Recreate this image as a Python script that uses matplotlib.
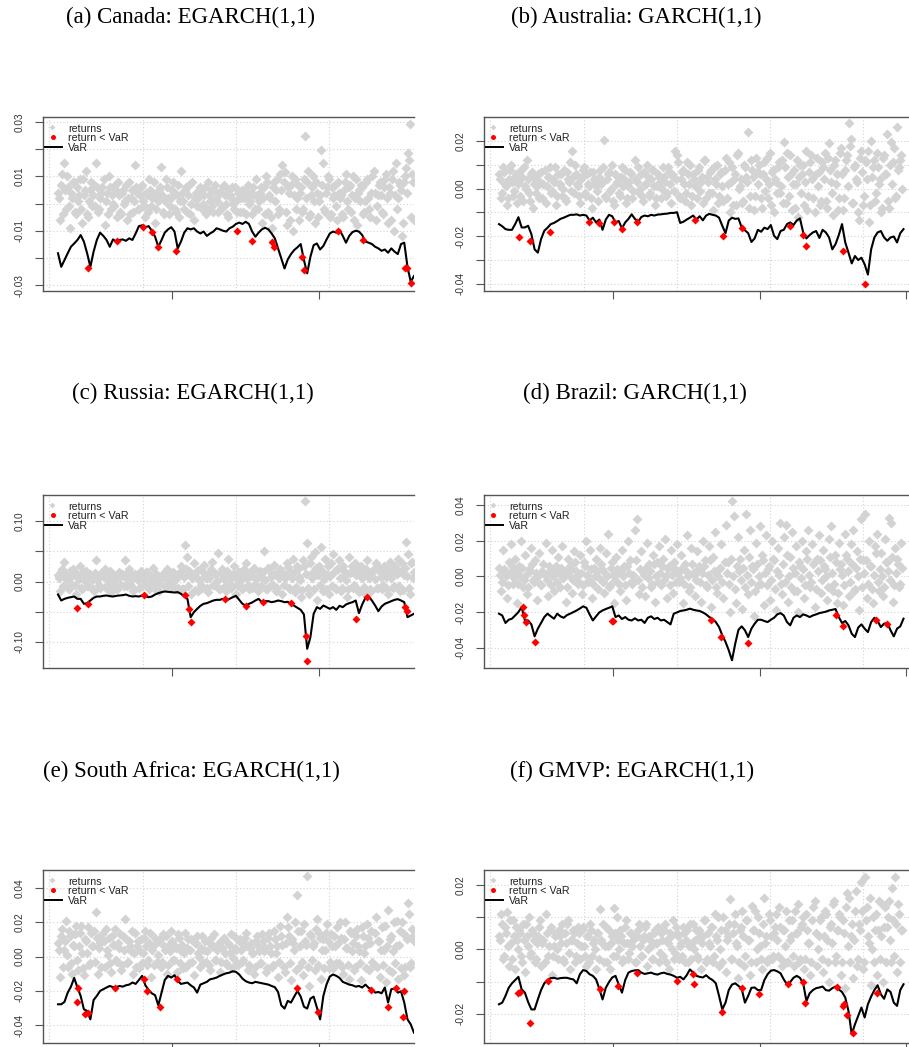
import numpy as np
import matplotlib
matplotlib.use("Agg")
import matplotlib.pyplot as plt

# ---------------- data (basis points, 1 bp = 0.0001) ----------------
VAR_STEP = 8      # days between VaR samples
RET_STEP = 5      # days between return samples (second list sits half a step later)

TITLES = ["(a) Canada: EGARCH(1,1)", "(b) Australia: GARCH(1,1)",
          "(c) Russia: EGARCH(1,1)", "(d) Brazil: GARCH(1,1)",
          "(e) South Africa: EGARCH(1,1)", "(f) GMVP: EGARCH(1,1)"]

CA_var_bp = [-183, -233, -208, -183, -159, -147, -134, -116, -140, -183,
             -233, -177, -134, -107, -119, -134, -159, -132, -140, -134,
             -132, -137, -128, -134, -110, -83, -80, -87, -83, -100,
             -122, -159, -134, -107, -95, -87, -103, -165, -140, -107,
             -91, -95, -91, -103, -110, -103, -119, -110, -103, -91,
             -95, -100, -103, -91, -85, -75, -70, -75, -67, -75,
             -103, -122, -107, -95, -89, -95, -110, -128, -165, -202,
             -239, -206, -186, -171, -161, -149, -208, -257, -196, -153,
             -147, -169, -156, -132, -110, -103, -107, -97, -119, -144,
             -119, -105, -100, -103, -116, -140, -144, -149, -159, -165,
             -174, -169, -181, -165, -177, -186, -149, -144, -233, -288,
             -267]
CA_ret_bp = [40, -60, 110, 150, -20, 60, -90, 20, 80, -40,
             10, 90, -70, 30, 120, -50, 50, -10, 70, 150,
             -30, 20, 60, -80, 40, 100, -20, 0, 70, -50,
             30, -40, 50, 10, -60, 80, 20, -30, 142, 40,
             -20, 60, 10, -50, 30, 90, -10, 40, -70, 20,
             50, 136, -30, 10, 60, -40, 20, 80, -20, 30,
             -50, 120, 10, 50, -30, 70, 0, -60, 40, 20,
             60, -20, 30, -40, 80, 10, -10, 50, 20, -30,
             40, -10, 70, 0, -50, 30, 60, -20, 10, 40,
             -30, 50, 20, -40, 70, 10, -40, 30, 90, -20,
             40, -70, 60, 100, -30, 20, -90, 80, 50, -40,
             110, 142, 118, -80, 40, 70, -100, 90, 20, -60,
             60, -20, 250, 80, -50, 30, 100, -70, 40, 10,
             198, 151, -30, 60, 90, -40, 20, 70, -60, 40,
             30, -50, 80, 10, 60, -30, 100, 20, -80, 50,
             70, -40, 10, 90, -20, 40, 120, -60, 30, 80,
             -30, 60, 110, -70, 40, 90, -100, 150, 20, 70,
             -120, 80, 130, 188, 294, 110, -60]
CA_ret_mid_bp = [20, 70, -40, 50, 100, -10, 40, 80, -30, 60,
                 30, -20, 90, 50, -40, 10, 80, 30, -10, 60,
                 -20, 40, 90, 10, -40, 60, 30, -10, 50, 80,
                 -30, 40, 0, 70, 20, -40, 50, 10, 60, -20,
                 30, 70, -10, 40, -30, 50, 20, 80, -20, 10,
                 60, 30, -40, 90, 20, -10, 50, 40, -30, 70,
                 10, 40, -20, 60, 30, -40, 80, 20, -10, 50,
                 40, 0, 60, -20, 30, 50, -30, 70, 10, 40,
                 -20, 60, 30, -40, 50, 20, 0, 60, -30, 40,
                 20, -30, 50, 30, 0, 40, 60, -20, 30, 10,
                 60, 20, -40, 80, 30, -50, 60, 10, 90, -20,
                 50, 80, -30, 60, -60, 100, 30, -20, 70, 40,
                 -30, 90, 20, 120, -40, 60, 10, 80, -50, 30,
                 70, -20, 40, 100, -50, 60, 30, -10, 80, 20,
                 -40, 50, 110, -20, 70, 30, -60, 90, 40, 10,
                 60, -30, 80, 20, -50, 100, 40, -10, 70, 30,
                 -40, 90, 20, 60, -60, 120, 30, -20, 80, 50,
                 -70, 100, 40, 160, -50, 80]
CA_breach_day = [75, 147, 209, 232, 248, 292, 443, 479, 528, 534, 602, 608, 693, 753, 858, 864, 872]
CA_breach_bp = [-239, -137, -85, -103, -159, -175, -100, -137, -140, -159, -196, -245, -100, -134, -239, -239, -294]

AU_var_bp = [-149, -158, -170, -173, -173, -149, -120, -163, -163, -156,
             -191, -255, -269, -212, -177, -164, -149, -144, -136, -127,
             -122, -116, -110, -110, -108, -113, -110, -113, -134, -122,
             -142, -130, -173, -130, -110, -116, -142, -136, -167, -142,
             -127, -108, -127, -139, -119, -113, -116, -110, -113, -109,
             -108, -106, -105, -102, -102, -99, -144, -139, -130, -122,
             -113, -130, -116, -133, -113, -106, -110, -113, -122, -156,
             -187, -134, -122, -127, -125, -163, -175, -187, -224, -209,
             -173, -181, -164, -170, -153, -198, -212, -178, -173, -149,
             -142, -153, -134, -125, -184, -209, -195, -184, -178, -207,
             -173, -184, -205, -255, -233, -195, -149, -226, -269, -314,
             -283, -300, -290, -318, -361, -255, -205, -184, -178, -205,
             -219, -205, -201, -226, -187, -170]
AU_ret_bp = [60, -40, 90, 20, -70, 40, 100, -30, 50, -60,
             30, 80, -50, 10, 120, -20, 60, -80, 40, 10,
             -40, 70, 20, -60, 50, 90, -10, 30, -70, 60,
             20, -30, 80, -50, 40, 110, 160, -20, 60, 10,
             -60, 50, 90, -30, 20, 70, -80, 40, 10, -50,
             80, 30, 205, -40, 60, -10, 100, -70, 20, 50,
             -30, 90, 40, -60, 10, 70, -40, 120, 30, -20,
             60, -50, 20, 100, -30, 40, 80, -70, 10, 50,
             -40, 90, 30, -20, 70, -60, 50, 160, 140, -30,
             40, 80, -50, 110, 20, -70, 60, 10, -40, 90,
             30, -60, 120, 50, -20, 80, -90, 40, 100, -30,
             70, -50, 130, 20, -100, 90, 40, -70, 150, 10,
             -60, 100, 50, 240, -30, 80, -90, 130, 20, 60,
             -80, 110, 40, -40, 150, 70, -100, 30, 90, -20,
             120, 198, -60, 50, 140, -90, 80, 20, -120, 100,
             60, -70, 160, -30, 110, 40, -100, 130, 70, -50,
             90, 150, -80, 190, 30, -110, 120, 60, -40, 170,
             -90, 80, 140, 276, 210, -60, 100, 30, -130, 160,
             -70, 120, 40, -140, 200, 90, -50, 150, 20, -100,
             130, 60, 230, -80, 198, 110, -40, 258, 90, 140]
AU_ret_mid_bp = [40, -20, 70, 10, -40, 80, 30, -10, 60, 20,
                 -30, 50, 90, 0, 40, -50, 70, 20, -20, 60,
                 30, -40, 80, 10, 50, -20, 40, 90, -30, 20,
                 60, 0, -40, 70, 30, -10, 50, 100, 20, -30,
                 40, 80, -20, 60, 10, -40, 70, 30, -10, 50,
                 20, 90, -30, 40, 70, 0, -50, 60, 30, -20,
                 50, 10, 80, -40, 30, 60, -10, 40, 90, 0,
                 -30, 70, 20, 50, -20, 80, 10, -40, 60, 30,
                 0, 50, -30, 90, 20, 60, -10, 40, 110, -40,
                 70, 20, -20, 60, 100, -30, 40, 10, 80, -10,
                 50, 120, -40, 30, 70, -20, 90, 20, -60, 60,
                 10, 80, -40, 110, 30, -70, 60, 140, 0, 40,
                 -50, 90, 30, -80, 120, 50, -30, 70, 100, -40,
                 60, -10, 130, 20, -70, 80, 40, -20, 110, 10,
                 -60, 90, 150, -30, 60, 20, -80, 120, 50, -20,
                 100, 30, -90, 70, 140, -40, 60, 10, -70, 110,
                 40, -50, 130, 80, -20, 100, 20, -90, 150, 60,
                 -40, 120, 10, 180, -60, 90, 40, -100, 130, 70,
                 -30, 110, 160, -70, 50, 120, -20, 90, 40, -80,
                 140, 60, -50, 100, 20, 170, -30, 80, 120, 0]
AU_breach_day = [50, 77, 126, 223, 246, 284, 303, 342, 485, 553, 600, 719, 751, 758, 851, 905]
AU_breach_bp = [-202, -219, -181, -139, -144, -139, -170, -141, -130, -201, -167, -156, -195, -241, -262, -399]

RU_var_bp = [-215, -314, -287, -270, -259, -248, -287, -287, -369, -358,
             -314, -270, -248, -248, -237, -231, -242, -248, -237, -231,
             -226, -215, -237, -248, -242, -248, -231, -248, -259, -248,
             -215, -193, -176, -165, -171, -176, -182, -176, -204, -248,
             -287, -590, -507, -452, -402, -369, -358, -336, -314, -303,
             -303, -287, -314, -287, -259, -237, -303, -369, -397, -369,
             -347, -314, -287, -342, -325, -325, -342, -331, -314, -325,
             -342, -336, -369, -402, -435, -468, -545, -1113, -920, -534,
             -424, -452, -397, -424, -452, -424, -468, -402, -424, -380,
             -358, -342, -314, -523, -380, -270, -248, -314, -397, -490,
             -413, -369, -347, -325, -303, -292, -314, -342, -590, -562,
             -534]
RU_ret_bp = [100, -150, 200, 320, 50, -100, 180, -50, 150, -200,
             80, 250, -120, 30, 180, -80, 120, 20, -150, 360,
             60, -100, 150, 200, -50, 100, -180, 80, 30, -120,
             150, -60, 100, 350, -80, 200, 40, -150, 120, 60,
             -100, 180, 40, -60, 150, -120, 80, 220, -40, 100,
             -150, 60, 120, -80, 200, 30, -100, 150, 70, -130,
             100, 250, -120, 610, 400, 180, -200, 300, 80, -150,
             200, -100, 280, 50, -180, 150, 320, -60, 120, 470,
             -120, 200, 60, -150, 370, 100, -80, 250, -200, 150,
             80, -120, 200, 300, -60, 150, -100, 230, 40, -150,
             180, 60, 510, -120, 220, -80, 130, 280, -150, 100,
             200, -200, 50, 300, -100, 150, 380, -180, 250, 80,
             -250, 350, 1330, 630, -200, 400, 150, 480, -300, 250,
             570, -150, 380, 100, -200, 300, 450, -100, 200, 350,
             -150, 250, 100, -250, 400, 150, -100, 300, 200, -180,
             250, 100, -200, 350, 50, -150, 200, 300, -100, 150,
             -120, 250, 80, -200, 320, 150, -80, 200, 380, -150,
             300, 100, 650, 460, -200, 320, 150]
RU_ret_mid_bp = [50, 150, -80, 100, 30, -120, 80, 200, -60, 120,
                 40, -100, 160, 20, -80, 100, 60, -130, 140, 30,
                 -60, 120, 80, -100, 40, 180, -50, 90, 20, -110,
                 70, 130, -70, 50, 150, -40, 100, -120, 60, 20,
                 120, -80, 40, 160, -60, 90, 10, -100, 130, 50,
                 -40, 110, 70, -90, 140, 20, -60, 100, 40, -100,
                 160, -120, 80, 200, -80, 130, 50, -140, 180, 30,
                 -60, 150, 90, -100, 60, 200, -50, 120, 10, -120,
                 140, 60, -80, 180, 30, -110, 120, 70, -60, 160,
                 20, -100, 130, 50, -120, 90, 170, -40, 60, 110,
                 -80, 150, 30, -130, 200, 80, -50, 120, -100, 60,
                 180, -60, 100, 240, -120, 60, 150, -90, 200, 30,
                 -140, 250, 120, -100, 300, 60, -130, 220, 100, -60,
                 180, 40, -120, 260, 90, -80, 150, -130, 210, 60,
                 -100, 180, 30, -120, 140, 250, -60, 100, -140, 170,
                 60, -90, 200, 110, -130, 160, 40, -100, 230, 80,
                 -60, 150, -120, 190, 50, -100, 260, 120, -80, 170,
                 -140, 220, 90, -110, 300, 60]
RU_breach_day = [46, 73, 213, 314, 325, 330, 414, 465, 506, 575, 612, 616, 737, 765, 858, 862]
RU_breach_bp = [-435, -380, -231, -231, -452, -672, -287, -397, -342, -358, -893, -1322, -617, -248, -424, -490]

BR_var_bp = [-208, -218, -260, -242, -236, -218, -199, -171, -246, -246,
             -268, -335, -292, -260, -227, -208, -223, -236, -208, -223,
             -231, -216, -208, -199, -190, -179, -167, -175, -212, -246,
             -223, -201, -190, -182, -175, -167, -227, -218, -238, -227,
             -242, -246, -234, -246, -242, -260, -231, -223, -238, -231,
             -246, -242, -255, -268, -208, -201, -193, -190, -186, -180,
             -186, -190, -193, -201, -212, -227, -238, -255, -283, -329,
             -366, -413, -469, -376, -298, -279, -301, -339, -292, -264,
             -242, -242, -249, -255, -242, -231, -212, -205, -218, -255,
             -273, -231, -218, -227, -212, -218, -227, -218, -212, -205,
             -201, -197, -190, -186, -182, -227, -260, -249, -273, -320,
             -339, -286, -268, -292, -311, -255, -231, -249, -283, -264,
             -260, -301, -335, -292, -279, -236]
BR_ret_bp = [50, -80, 150, 20, -120, 80, 180, -40, 100, -150,
             60, 200, -60, 120, -100, 40, 160, -20, 90, -130,
             130, -50, 70, 190, -110, 30, 150, -80, 60, 110,
             -60, 170, 20, -140, 100, 60, -90, 140, 30, -40,
             120, -100, 80, 200, -30, 150, -120, 50, 100, -70,
             160, 40, -90, 130, 240, -50, 80, -150, 110, 20,
             -80, 150, 60, -130, 200, 90, -40, 260, 320, -100,
             140, 30, -110, 190, 70, -60, 120, -140, 80, 170,
             -50, 100, 210, -120, 60, 150, -90, 40, 180, -30,
             120, -150, 70, 230, -80, 160, 20, -110, 140, 60,
             -140, 200, 90, -60, 170, -170, 110, 250, -90, 40,
             180, -120, 290, 80, -200, 420, 340, -150, 220, 100,
             -180, 150, 350, -100, 260, 60, -220, 190, -50, 280,
             120, -160, 230, 40, -130, 200, 90, -190, 160, 300,
             -100, 220, 290, -140, 110, 250, -80, 170, -200, 60,
             200, -120, 140, 260, -60, 180, -170, 100, 230, -90,
             150, 40, -130, 210, 280, -80, 120, -150, 190, 70,
             -160, 240, 100, -110, 180, 260, -70, 140, -190, 320,
             90, 350, -120, 200, 60, -150, 170, 240, -80, 130,
             -110, 210, 80, 330, 300, -140, 160, 100, -60, 190]
BR_ret_mid_bp = [10, -30, 40, 0, -50, 20, 60, -10, 30, -40,
                 0, 50, -20, 10, -60, 30, 70, -30, 20, 0,
                 -40, 30, 10, -20, 60, -50, 0, 40, -30, 20,
                 50, -10, 30, -60, 10, 40, -20, 80, 0, -30,
                 20, -50, 60, 10, -20, 40, -40, 0, 30, -10,
                 70, -30, 20, 0, -60, 50, 10, -20, 40, -40,
                 30, 0, -50, 60, 20, -30, 10, 90, -20, 40,
                 -60, 10, 50, -10, 30, -40, 70, 0, -30, 20,
                 60, -20, 0, 40, -50, 10, 80, -30, 20, -10,
                 50, -40, 30, 0, -60, 70, 10, -20, 40, -30,
                 20, 60, -50, 10, 90, -20, 30, -60, 0, 50,
                 -30, 80, 20, -40, 100, 0, -70, 60, 30, -20,
                 50, -60, 10, 110, -30, 40, -80, 70, 0, -40,
                 90, 20, -50, 60, -20, 100, -70, 30, 10, -40,
                 70, -30, 120, 0, -60, 50, 20, -80, 80, -10,
                 40, -50, 100, 10, -30, 70, -70, 30, 90, -20,
                 60, 0, -60, 110, 20, -40, 80, -90, 40, 10,
                 -50, 120, 30, -30, 70, -80, 50, 0, 100, -60,
                 20, 90, -40, 60, -70, 10, 130, -30, 40, 0,
                 -60, 80, 30, -20, 110, -50, 20, 70, -40, 50]
BR_breach_day = [59, 62, 67, 90, 279, 283, 524, 550, 616, 833, 851, 932, 958]
BR_breach_bp = [-171, -218, -255, -366, -249, -249, -242, -339, -370, -218, -277, -242, -268]

ZA_var_bp = [-279, -279, -265, -211, -176, -125, -181, -230, -308, -318,
             -367, -254, -230, -201, -191, -181, -172, -179, -179, -172,
             -176, -168, -164, -152, -160, -137, -113, -168, -195, -215,
             -226, -285, -211, -137, -113, -123, -109, -142, -160, -156,
             -152, -168, -181, -211, -164, -156, -148, -133, -129, -123,
             -113, -105, -98, -94, -86, -90, -105, -129, -144, -152,
             -156, -148, -152, -156, -160, -164, -172, -179, -207, -285,
             -304, -259, -269, -234, -201, -234, -293, -304, -246, -234,
             -298, -367, -230, -162, -117, -105, -113, -125, -148, -156,
             -164, -168, -176, -172, -181, -164, -183, -191, -211, -207,
             -215, -181, -269, -191, -187, -211, -203, -269, -367, -396,
             -445]
ZA_ret_bp = [80, -120, 160, 40, 210, -60, 120, -100, 60, 180,
             -80, 140, 20, -110, 90, 170, -40, 60, 150, 260,
             -100, 80, 130, -60, 40, 110, -90, 70, 160, -30,
             50, -80, 120, 220, -40, 90, 30, -100, 140, 60,
             -70, 100, 20, 150, -50, 80, -120, 60, 110, -30,
             90, -60, 130, 40, -100, 70, 150, -20, 60, -90,
             110, 30, -70, 140, 50, -40, 100, -110, 80, 20,
             -60, 120, 40, -30, 90, -80, 60, 130, -20, 70,
             -90, 50, 110, -40, 80, 20, -70, 120, 40, -50,
             100, -30, 70, 140, -80, 50, 20, -100, 90, 60,
             -40, 130, 30, -90, 110, 60, -60, 150, 20, -120,
             180, 70, -90, 230, 120, -140, 80, 200, 360, -60,
             150, -110, 90, 470, -170, 120, 60, -80, 220, 140,
             -130, 100, 40, 190, -70, 130, -70, 60, 170, -40,
             110, -100, 200, 50, -130, 140, 80, -60, 160, 30,
             -140, 120, 60, 190, -80, 150, -50, 230, 90, -120,
             170, 40, -150, 270, 100, -90, 200, 60, -130, 150,
             200, -110, 120, 310, -60, 160, 90]
ZA_ret_mid_bp = [40, 120, -60, 90, 10, 150, -40, 70, 130, -20,
                 60, 180, -70, 100, 20, -50, 140, 60, -30, 110,
                 50, -60, 90, 160, 10, -40, 120, 70, -20, 80,
                 130, -50, 40, 100, -30, 60, 150, 20, -60, 90,
                 30, -40, 110, 60, -20, 140, 40, -50, 80, 10,
                 100, -30, 60, 120, -50, 30, 90, -20, 50, 130,
                 -40, 70, 20, -60, 100, 40, -30, 80, 120, 0,
                 50, -40, 90, 30, -50, 110, 60, -20, 40, 80,
                 -30, 100, 20, -50, 70, 130, -10, 50, -40, 90,
                 40, -20, 110, 60, -50, 80, 20, -60, 120, 30,
                 -40, 90, 50, -70, 140, 20, -50, 100, 60, -30,
                 120, -60, 80, 170, -40, 100, 40, -80, 150, 60,
                 -30, 190, 70, -60, 130, -20, 80, 160, -50, 110,
                 40, -70, 140, 90, -30, 60, 120, -40, 80, 200,
                 -60, 100, 50, -50, 150, 30, -80, 120, 60, -40,
                 170, 20, -70, 110, 80, -30, 140, -60, 90, 40,
                 -50, 180, 60, -80, 120, 30, -40, 210, 70, -70,
                 140, -60, 100, 250, -40, 120]
ZA_breach_day = [48, 50, 67, 75, 141, 213, 219, 251, 293, 590, 642, 775, 817, 836, 854, 855]
ZA_breach_bp = [-265, -181, -334, -328, -181, -129, -201, -293, -133, -185, -324, -195, -295, -181, -353, -201]

GM_var_bp = [-170, -165, -144, -119, -105, -95, -85, -124, -134, -163,
             -186, -186, -155, -126, -105, -95, -89, -88, -91, -89,
             -88, -88, -91, -93, -105, -77, -64, -67, -77, -82,
             -93, -122, -155, -119, -101, -87, -82, -109, -134, -95,
             -72, -67, -65, -64, -72, -76, -74, -72, -76, -78,
             -74, -72, -76, -78, -82, -88, -85, -93, -80, -62,
             -72, -82, -85, -87, -80, -89, -95, -105, -144, -186,
             -165, -126, -109, -105, -113, -122, -165, -144, -119, -118,
             -126, -126, -95, -77, -66, -64, -68, -74, -93, -108,
             -101, -88, -82, -88, -105, -160, -136, -126, -120, -118,
             -115, -126, -128, -120, -115, -124, -132, -149, -191, -263,
             -232, -206, -180, -211, -170, -146, -126, -111, -139, -153,
             -124, -132, -165, -175, -126, -108]
GM_ret_bp = [40, 110, -30, 70, 115, -50, 20, 90, -60, 30,
             60, -20, 80, -70, 40, 100, -10, 50, -40, 20,
             70, -50, 30, 110, -20, 60, -80, 10, 50, -30,
             40, 80, -40, 20, 90, -60, 30, 50, -20, 70,
             -30, 60, 10, -50, 40, 80, -20, 30, -60, 50,
             126, 20, -40, 70, 10, -60, 40, 129, -20, 30,
             60, -40, 20, 90, -30, 50, 10, -40, 40, 80,
             -20, 30, 70, -50, 40, 10, -30, 60, 20, -40,
             50, -20, 80, 30, -60, 40, 90, -10, 50, -30,
             20, 70, -40, 60, 10, -30, 80, 30, -20, 60,
             -60, 40, 90, -30, 20, 70, -40, 110, 30, -50,
             60, 100, -70, 40, 157, -30, 80, 20, -90, 60,
             120, -50, 90, 30, -80, 134, 60, -40, 100, 10,
             -60, 160, 40, -30, 90, -30, 50, 110, -20, 70,
             -50, 60, 120, -40, 30, 90, -50, 50, 140, -30,
             80, -60, 110, 20, -80, 90, 150, -50, 40, 100,
             -70, 120, 30, -100, 80, 140, -40, 60, 110, -80,
             90, -120, 175, 160, 40, -90, 120, -50, 80, 210,
             -60, 225, 130, 20, -110, 100, 60, -80, 150, 40,
             -100, 130, 70, 150, -40, 90, 225, -70, 110, 60]
GM_ret_mid_bp = [30, 80, -20, 50, 10, 90, -30, 40, 70, 0,
                 50, -40, 30, 80, 10, -20, 60, 30, -30, 40,
                 90, 20, -40, 50, 10, 70, -20, 40, 0, 60,
                 20, -30, 50, 80, -10, 30, 60, -40, 20, 50,
                 10, 70, -20, 40, -40, 60, 20, 0, 50, -30,
                 30, 80, 10, -40, 60, 20, -20, 50, 100, 0,
                 40, -30, 70, 20, -10, 50, 30, -40, 60, 10,
                 -20, 40, 80, 0, 30, -30, 50, 20, 70, -10,
                 30, 60, -40, 20, 50, 0, -30, 70, 40, 10,
                 -20, 50, 30, -40, 80, 20, 0, 60, -30, 40,
                 20, 90, -40, 50, 10, 70, -20, 40, 100, 0,
                 -40, 60, 30, 80, -30, 50, 110, 10, -40, 70,
                 40, -20, 90, 30, -40, 60, 120, 0, 50, -30,
                 80, 20, -40, 110, 40, -20, 70, 30, 130, -30,
                 60, 10, -40, 90, 40, -20, 120, 50, -40, 70,
                 100, -30, 60, 20, -40, 130, 50, 0, 90, -30,
                 40, 110, -40, 70, 20, 150, -20, 60, 100, -40,
                 50, 130, 10, -40, 80, 30, 180, -30, 60, 120,
                 -40, 90, 40, 160, 0, -40, 110, 60, -30, 140,
                 70, -40, 100, 30, 190, -20, 80, 140, -40, 60]
GM_breach_day = [48, 52, 77, 122, 250, 295, 342, 441, 480, 482, 551, 600, 644, 715, 751, 756, 836, 850, 854, 860, 876, 934]
GM_breach_bp = [-134, -132, -227, -98, -124, -113, -74, -98, -77, -108, -193, -119, -139, -108, -101, -165, -115, -175, -168, -204, -258, -134]

X_TICK_DAYS = [282, 645, 1006]
X_GRID_DAYS = [-22, 210, 440, 670, 900]

CA_yticks = [-0.03, -0.02, -0.01, 0.0, 0.01, 0.02, 0.03]
CA_ylabels = ["-0.03", "", "-0.01", "", "0.01", "", "0.03"]
AU_yticks = [-0.04, -0.03, -0.02, -0.01, 0.0, 0.01, 0.02]
AU_ylabels = ["-0.04", "", "-0.02", "", "0.00", "", "0.02"]
RU_yticks = [-0.10, -0.05, 0.0, 0.05, 0.10]
RU_ylabels = ["-0.10", "", "0.00", "", "0.10"]
BR_yticks = [-0.04, -0.02, 0.0, 0.02, 0.04]
BR_ylabels = ["-0.04", "-0.02", "0.00", "0.02", "0.04"]
ZA_yticks = [-0.04, -0.02, 0.0, 0.02, 0.04]
ZA_ylabels = ["-0.04", "-0.02", "0.00", "0.02", "0.04"]
GM_yticks = [-0.02, -0.01, 0.0, 0.01, 0.02]
GM_ylabels = ["-0.02", "", "0.00", "", "0.02"]

# ---------------- layout ----------------
W, H = 909, 1047
PX_PER_DAY = 0.4045
DATA_OFFSET_PX = 15
GRAY = "#D3D3D3"
SPINE = "#555555"

fig = plt.figure(figsize=(W / 100, H / 100), dpi=100)
fig.patch.set_facecolor("white")

COLS = [(43, 371), (484, 425)]
ROWS = [(117, 291), (495, 668), (870, 1043)]
TITLE_POS = [(190, 17), (636, 17), (193, 393), (635, 393), (191, 771), (632, 771)]


def panel(idx, var_bp, ret_bp, ret_mid_bp, b_day, b_bp, yticks, ylabels, ylim):
    row, col = divmod(idx, 2)
    x0, wpx = COLS[col]
    ytop, ybot = ROWS[row]
    hpx = ybot - ytop
    ax = fig.add_axes([x0 / W, 1 - ybot / H, wpx / W, hpx / H])

    for yt in yticks:
        ax.axhline(yt, color=GRAY, lw=0.8, ls=(0, (1, 2)), zorder=0)
    for g in X_GRID_DAYS:
        ax.axvline(g, color=GRAY, lw=0.8, ls=(0, (1, 2)), zorder=0)

    var = np.array(var_bp) * 1e-4
    ret = np.concatenate([np.array(ret_bp), np.array(ret_mid_bp)]) * 1e-4
    ret_days = np.concatenate([np.arange(len(ret_bp)) * RET_STEP,
                               np.arange(len(ret_mid_bp)) * RET_STEP + RET_STEP / 2])
    ax.plot(ret_days, ret, ls="none", marker="D", ms=5.0,
            color=GRAY, mec="none", zorder=2)
    ax.plot(np.arange(len(var)) * VAR_STEP, var, color="black", lw=1.5, zorder=3)
    ax.plot(b_day, np.array(b_bp) * 1e-4, ls="none", marker="D", ms=4.0,
            color="red", mec="none", zorder=4)

    for s in ["top", "left", "bottom"]:
        ax.spines[s].set_color(SPINE)
        ax.spines[s].set_linewidth(1.0)
    ax.spines["right"].set_visible(False)

    ax.set_xticks(X_TICK_DAYS)
    ax.set_xticklabels([])
    ax.tick_params(axis="x", length=6, width=0.8, color=SPINE)
    ax.set_yticks(yticks)
    ax.set_yticklabels(ylabels, rotation=90, va="center",
                       fontfamily="Liberation Sans", fontsize=7.2, color="#333333")
    ax.tick_params(axis="y", length=6, width=0.8, color=SPINE, pad=7.5)

    # limits last, so that set_xticks cannot widen them
    xmin = -DATA_OFFSET_PX / PX_PER_DAY
    ax.set_xlim(xmin, xmin + wpx / PX_PER_DAY)
    ax.set_ylim(*ylim)

    # legend (top-left, no frame)
    def fx(px):
        return px / wpx

    def fy(px):
        return 1 - px / hpx

    ax.plot([fx(9)], [fy(10)], transform=ax.transAxes, marker="D", ms=3,
            color=GRAY, mec="none", clip_on=False, zorder=6)
    ax.plot([fx(9.5)], [fy(20)], transform=ax.transAxes, marker="o", ms=3.6,
            color="red", mec="none", clip_on=False, zorder=6)
    ax.plot([fx(2), fx(19)], [fy(30), fy(30)], transform=ax.transAxes,
            color="black", lw=1.4, clip_on=False, zorder=6)
    for k, lab in enumerate(["returns", "return < VaR", "VaR"]):
        ax.text(fx(25), fy(12 + 9.3 * k), lab, transform=ax.transAxes,
                fontfamily="Liberation Sans", fontsize=7.7, color="#222222",
                ha="left", va="center", zorder=7)

    cx, cy = TITLE_POS[idx]
    fig.text(cx / W, 1 - cy / H, TITLES[idx], fontfamily="Liberation Serif",
             fontsize=16.5, ha="center", va="center")
    return ax


panel(0, CA_var_bp, CA_ret_bp, CA_ret_mid_bp, CA_breach_day, CA_breach_bp, CA_yticks, CA_ylabels, (-0.0322, 0.0319))
panel(1, AU_var_bp, AU_ret_bp, AU_ret_mid_bp, AU_breach_day, AU_breach_bp, AU_yticks, AU_ylabels, (-0.043, 0.0301))
panel(2, RU_var_bp, RU_ret_bp, RU_ret_mid_bp, RU_breach_day, RU_breach_bp, RU_yticks, RU_ylabels, (-0.143, 0.143))
panel(3, BR_var_bp, BR_ret_bp, BR_ret_mid_bp, BR_breach_day, BR_breach_bp, BR_yticks, BR_ylabels, (-0.0512, 0.0456))
panel(4, ZA_var_bp, ZA_ret_bp, ZA_ret_mid_bp, ZA_breach_day, ZA_breach_bp, ZA_yticks, ZA_ylabels, (-0.0505, 0.0505))
panel(5, GM_var_bp, GM_ret_bp, GM_ret_mid_bp, GM_breach_day, GM_breach_bp, GM_yticks, GM_ylabels, (-0.029, 0.0246))

fig.savefig("out.png", dpi=100)
